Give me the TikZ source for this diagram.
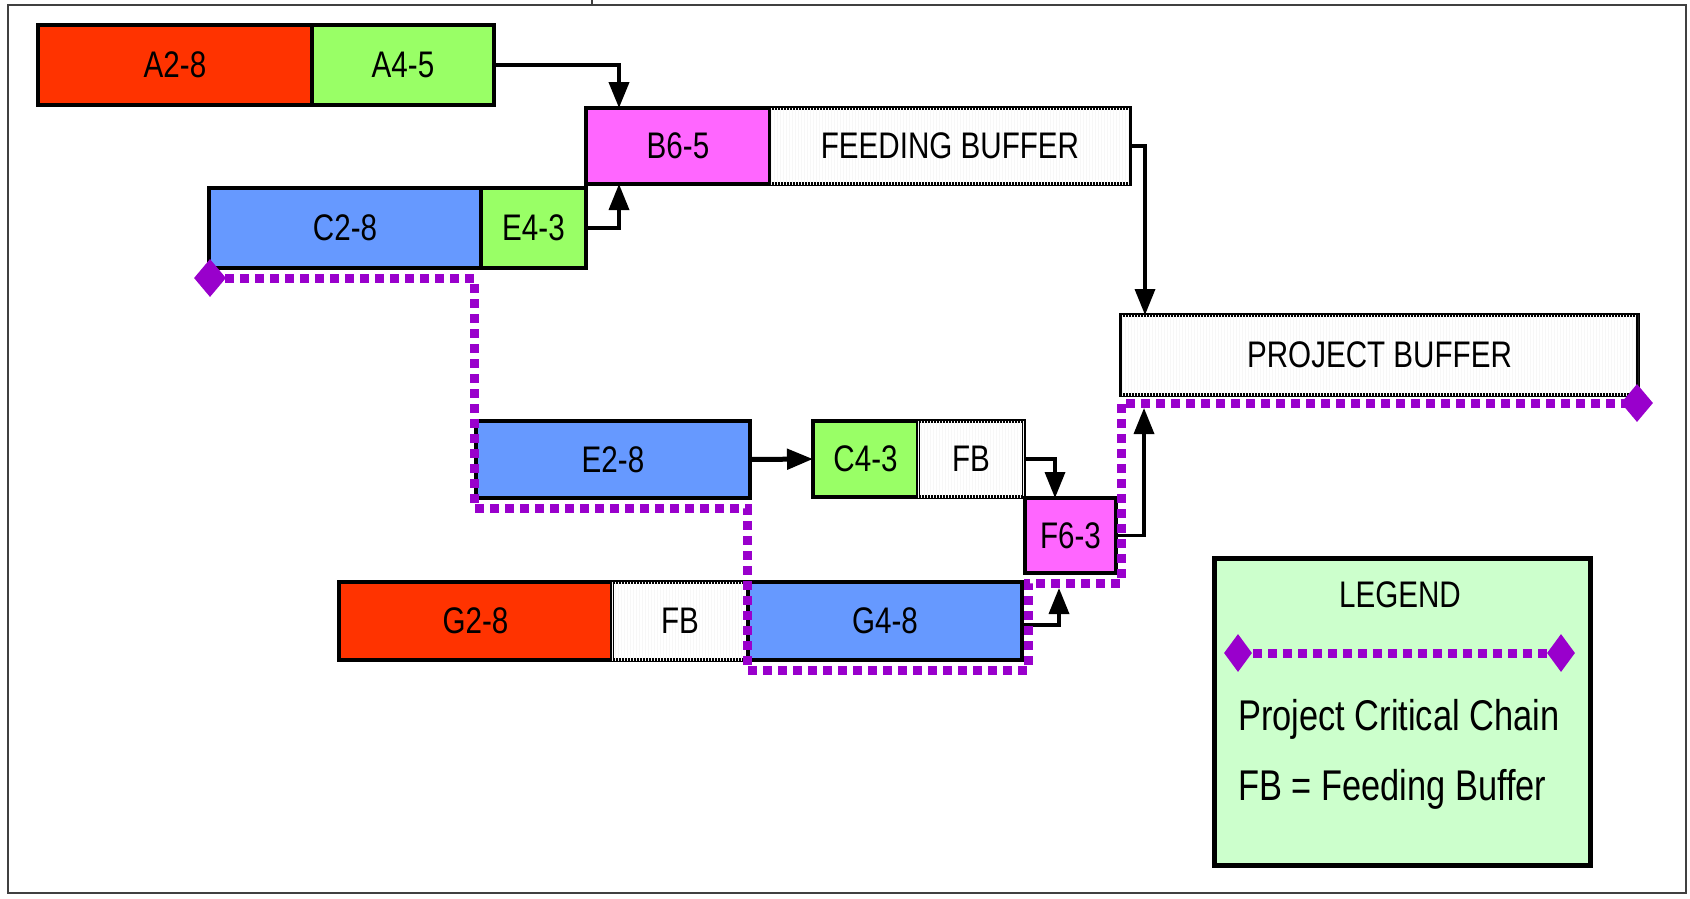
\documentclass[tikz,border=0pt]{standalone}
\usepackage{fontspec}
\setmainfont{Liberation Sans}
\newfontfamily\nar[FakeStretch=0.8]{Liberation Sans}
\usetikzlibrary{arrows.meta,calc,patterns,shapes.geometric}
\definecolor{cred}{HTML}{FF3300}
\definecolor{cgreen}{HTML}{99FF66}
\definecolor{cblue}{HTML}{6699FF}
\definecolor{cmag}{HTML}{FF66FF}
\definecolor{ccol}{HTML}{9900CC}
\definecolor{clegend}{HTML}{CCFFCC}
\tikzset{
  task/.style={draw=black, line width=4.5pt, inner sep=0pt, outer sep=0pt, anchor=north west,
    font=\nar\fontsize{37}{40}\selectfont},
  buf/.style={task, fill=white, postaction={pattern=vertical lines, pattern color=black!3}},
  arr/.style={draw=black, line width=3.5pt, -{Triangle[length=26pt 0,width=20pt 0]}},
  chain/.style={draw=ccol, line width=9pt, dash pattern=on 9pt off 6pt},
  ccdia/.style={diamond, fill=ccol, inner sep=0pt, minimum width=32pt, minimum height=38pt},
  legtext/.style={font=\nar\fontsize{43}{46}\selectfont, anchor=base west, inner sep=0pt}
}
\begin{document}
\begin{tikzpicture}[x=1pt,y=-1pt]
\useasboundingbox (0,0) rectangle (1690,898);
% frame
\draw[line width=2.5pt, black!75] (8,5) rectangle (1686,893);
\draw[line width=2.5pt, black!75] (592,0) -- (592,5);

% tasks
\node[task, fill=cred, minimum width=274, minimum height=80] (a28) at (38,25) {A2-8};
\node[task, fill=cgreen, minimum width=182, minimum height=80] (a45) at (312,25) {A4-5};
\node[task, fill=cmag, minimum width=184, minimum height=76] (b65) at (586,108) {B6-5};
\node[buf, minimum width=360, minimum height=76] (fbuf) at (770,108) {FEEDING BUFFER};
\node[task, fill=cblue, minimum width=272, minimum height=80] (c28) at (209,188) {C2-8};
\node[task, fill=cgreen, minimum width=105, minimum height=80] (e43) at (481,188) {E4-3};
\node[buf, minimum width=517, minimum height=80] (pbuf) at (1121,315) {PROJECT BUFFER};
\node[task, fill=cblue, minimum width=274, minimum height=77] (e28) at (476,421) {E2-8};
\node[task, fill=cgreen, minimum width=105, minimum height=76] (c43) at (813,421) {C4-3};
\node[buf, minimum width=106, minimum height=76] (fb1) at (918,421) {FB};
\node[task, fill=cmag, minimum width=91, minimum height=75] (f63) at (1025,498) {F6-3};
\node[task, fill=cred, minimum width=273, minimum height=78] (g28) at (339,582) {G2-8};
\node[buf, minimum width=136, minimum height=78] (fb2) at (612,582) {FB};
\node[task, fill=cblue, minimum width=274, minimum height=78] (g48) at (748,582) {G4-8};

% connector end points
\coordinate (b65top) at (619,108);
\coordinate (b65bot) at (619,184);
\coordinate (pbtop) at (1145,315);
\coordinate (pbbot) at (1144,408);
\coordinate (f63top) at (1055,498);
\coordinate (f63bot) at (1059,588);

% connectors
\draw[arr, line width=4pt] (a45.east) -| (b65top);
\draw[arr] (e43.east) -| (b65bot);
\draw[arr] (fbuf.east) -| (pbtop);
\draw[arr, line width=5pt] (e28.east) -- (c43.west);
\draw[arr] (fb1.east) -| (f63top);
\draw[arr] (f63.east) -| (pbbot);
\draw[arr] ($(g48.east)+(0,4)$) -| (f63bot);

% critical chain
\coordinate (cc1) at (210,278);
\coordinate (cc2) at (474,278);
\coordinate (cc3) at (474,508);
\coordinate (cc4) at (747,508);
\coordinate (cc5) at (747,670);
\coordinate (cc6) at (1028,670);
\coordinate (cc7) at (1028,583);
\coordinate (cc8) at (1121,583);
\coordinate (cc9) at (1121,403);
\coordinate (cc10) at (1637,403);
\draw[chain] (cc1) -- (cc2) -- (cc3) -- (cc4) -- (cc5) -- (cc6) -- (cc7) -- (cc8) -- (cc9) -- (cc10);
\node[ccdia] (d1) at (cc1) {};
\node[ccdia] (d2) at (cc10) {};

% legend
\fill[black!45] (1216,560) rectangle (1592,867);
\node[draw=black, line width=4.5pt, fill=clegend, anchor=north west, inner sep=0pt,
  minimum width=376, minimum height=307] (leg) at (1212,556) {};
\node[font=\nar\fontsize{37}{40}\selectfont] (legt) at (1400,595) {LEGEND};
\coordinate (lc1) at (1238,653);
\coordinate (lc2) at (1561,653);
\draw[chain] (lc1) -- (lc2);
\node[ccdia, minimum width=28pt] (ld1) at (lc1) {};
\node[ccdia, minimum width=28pt] (ld2) at (lc2) {};
\node[legtext] (l1) at (1238,730) {Project Critical Chain};
\node[legtext] (l2) at (1238,800) {FB = Feeding Buffer};
\end{tikzpicture}
\end{document}
